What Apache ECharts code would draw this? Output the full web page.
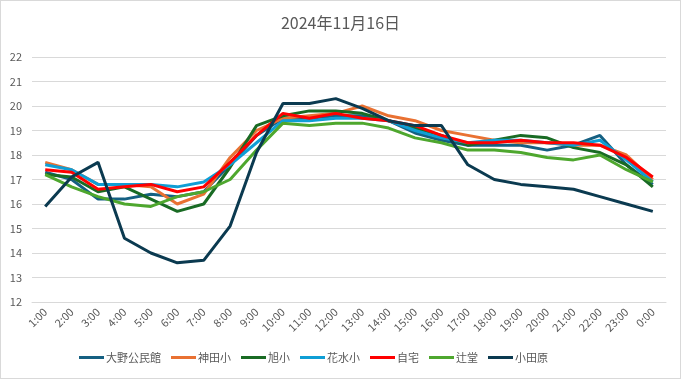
<!DOCTYPE html>
<html><head><meta charset="utf-8">
<script src="https://cdn.jsdelivr.net/npm/echarts@6/dist/echarts.min.js"></script>
<style>
html,body{margin:0;padding:0;background:#fff;}
#c{width:679px;height:377px;border:1px solid #d9d9d9;}
</style></head><body>
<div id="c"></div>
<script>
const categories = ['1:00','2:00','3:00','4:00','5:00','6:00','7:00','8:00','9:00','10:00','11:00','12:00','13:00','14:00','15:00','16:00','17:00','18:00','19:00','20:00','21:00','22:00','23:00','0:00'];
const seriesNames = ['大野公民館','神田小','旭小','花水小','自宅','辻堂','小田原'];
const oono    = [17.3,17.0,16.2,16.2,16.4,16.3,16.5,17.6,18.8,19.5,19.5,19.6,19.6,19.4,18.9,18.6,18.4,18.4,18.4,18.2,18.4,18.8,17.6,16.8];
const kanda   = [17.7,17.4,16.8,16.8,16.7,16.0,16.4,17.9,19.0,19.5,19.6,19.7,20.0,19.6,19.4,19.0,18.8,18.6,18.5,18.5,18.4,18.4,18.0,17.0];
const asahi   = [17.2,17.1,16.5,16.7,16.2,15.7,16.0,17.5,19.2,19.6,19.8,19.8,19.7,19.4,19.1,18.8,18.4,18.6,18.8,18.7,18.3,18.1,17.6,16.7];
const hanamizu= [17.6,17.4,16.8,16.8,16.8,16.7,16.9,17.6,18.5,19.4,19.4,19.5,19.5,19.4,19.0,18.7,18.5,18.6,18.6,18.5,18.4,18.6,17.8,16.9];
const jitaku  = [17.4,17.3,16.6,16.7,16.8,16.5,16.7,17.7,18.8,19.7,19.5,19.7,19.5,19.4,19.2,18.8,18.5,18.5,18.6,18.5,18.5,18.4,17.9,17.1];
const tsujido = [17.2,16.7,16.3,16.0,15.9,16.3,16.5,17.0,18.2,19.3,19.2,19.3,19.3,19.1,18.7,18.5,18.2,18.2,18.1,17.9,17.8,18.0,17.4,16.9];
const odawara = [15.9,17.1,17.7,14.6,14.0,13.6,13.7,15.1,18.1,20.1,20.1,20.3,19.9,19.4,19.2,19.2,17.6,17.0,16.8,16.7,16.6,16.3,16.0,15.7];
const yTicks = [12,13,14,15,16,17,18,19,20,21,22];

const allData = [oono,kanda,asahi,hanamizu,jitaku,tsujido,odawara];
const colors = ['#156082','#E97132','#196B24','#0F9ED5','#FF0000','#4EA72E','#0B3A50'];
const FONT = '"Noto Sans CJK JP","Noto Sans",sans-serif';

const chart = echarts.init(document.getElementById('c'));
chart.setOption({
  animation:false,
  color: colors,
  title:{text:'2024年11月16日',left:'center',top:9,textStyle:{fontFamily:FONT,fontSize:16,fontWeight:'normal',color:'#595959'}},
  grid:{left:31,right:14,top:56,bottom:76,containLabel:false},
  legend:{bottom:10,left:73,itemWidth:25,itemHeight:3,itemGap:10,icon:'rect',
    textStyle:{fontFamily:FONT,fontSize:11,color:'#595959',padding:[0,0,0,-3]},
    data:seriesNames},
  xAxis:{type:'category',data:categories,boundaryGap:true,
    axisLine:{lineStyle:{color:'#d9d9d9'}},axisTick:{show:false},
    axisLabel:{rotate:45,fontFamily:FONT,fontSize:11,color:'#595959',interval:0,margin:8}},
  yAxis:{type:'value',min:yTicks[0],max:yTicks[yTicks.length-1],interval:1,
    axisLine:{show:false},axisTick:{show:false},
    splitLine:{lineStyle:{color:'#d9d9d9'}},
    axisLabel:{fontFamily:FONT,fontSize:11,color:'#595959',margin:10}},
  series: seriesNames.map((n,i)=>({name:n,type:'line',data:allData[i],showSymbol:false,symbol:'none',
    lineStyle:{width:3,color:colors[i]},itemStyle:{color:colors[i]}}))
});
</script></body></html>
